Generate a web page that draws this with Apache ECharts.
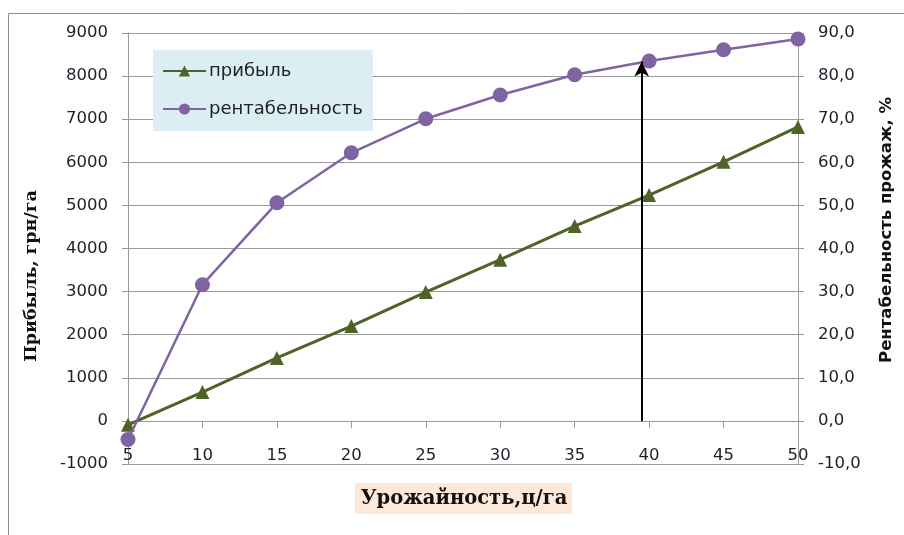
<!DOCTYPE html>
<html>
<head>
<meta charset="utf-8">
<script src="https://cdn.jsdelivr.net/npm/echarts@6/dist/echarts.min.js"></script>
<style>html,body{margin:0;padding:0;background:#fff}#c{width:904px;height:535px}</style>
</head>
<body>
<div id="c"></div>
<script>
// Data
const yields = [5, 10, 15, 20, 25, 30, 35, 40, 45, 50];
const profit = [-90, 670, 1460, 2200, 2990, 3740, 4520, 5240, 6010, 6820];
const profitability = [-4.3, 31.6, 50.6, 62.2, 70.1, 75.6, 80.3, 83.5, 86.1, 88.6];
const arrowX = 39.5;
const arrowFrom = 0;
const arrowTo = 83.4;
const seriesNames = ['прибыль', 'рентабельность'];
const xTitle = 'Урожайность,ц/га';
const yLeftTitle = 'Прибыль, грн/га';
const yRightTitle = 'Рентабельность прожаж, %';

const chart = echarts.init(document.getElementById('c'));
const labelFont = {fontFamily: 'DejaVu Sans', fontSize: 16.5, color: '#1f1f2a'};
const gridColor = '#9a9a9a';

chart.setOption({
  animation: false,
  backgroundColor: '#fff',
  graphic: [
    {type: 'rect', shape: {x: 8.5, y: 13.5, width: 1000, height: 600}, style: {fill: 'none', stroke: '#8c8c8c', lineWidth: 1}, silent: true},
    {type: 'rect', shape: {x: 355, y: 483, width: 217, height: 31}, style: {fill: '#fde9d9'}, silent: true, z: 0},
    {type: 'text', x: 464, y: 499, style: {text: xTitle, font: 'bold 19.5px "DejaVu Serif"', fill: '#111', align: 'center', verticalAlign: 'middle'}, z: 10},
    {type: 'text', x: 31, y: 276, rotation: Math.PI / 2, style: {text: yLeftTitle, font: 'bold 17.5px "DejaVu Serif"', fill: '#111', align: 'center', verticalAlign: 'middle'}, z: 10},
    {type: 'text', x: 887, y: 230, rotation: Math.PI / 2, style: {text: yRightTitle, font: 'bold 16.5px "DejaVu Sans"', fill: '#111', align: 'center', verticalAlign: 'middle'}, z: 10}
  ],
  legend: {
    orient: 'vertical',
    left: 153,
    top: 50,
    backgroundColor: '#dbeef4',
    padding: [12, 10, 13, 9],
    itemGap: 20,
    itemWidth: 43,
    itemHeight: 14,
    textStyle: {fontFamily: 'DejaVu Sans', fontSize: 18, color: '#1f1f2a', padding: [0, 0, 0, -2]},
    data: seriesNames
  },
  grid: {left: 128, right: 106, top: 33, bottom: 71, containLabel: false},
  xAxis: {
    type: 'value',
    min: 5, max: 50, interval: 5,
    axisLine: {onZero: true, lineStyle: {color: gridColor, width: 1}},
    axisTick: {show: true, length: 7, lineStyle: {color: gridColor}},
    axisLabel: Object.assign({margin: -17}, labelFont),
    splitLine: {show: false}
  },
  yAxis: [
    {
      type: 'value', min: -1000, max: 9000, interval: 1000,
      axisLine: {show: true, lineStyle: {color: gridColor}},
      axisTick: {show: true, length: 6, lineStyle: {color: gridColor}},
      axisLabel: Object.assign({margin: 20, formatter: v => String(v)}, labelFont),
      splitLine: {show: true, lineStyle: {color: gridColor, width: 1}}
    },
    {
      type: 'value', min: -10, max: 90, interval: 10, position: 'right',
      axisLine: {show: true, onZero: false, lineStyle: {color: gridColor}},
      axisTick: {show: true, length: 6, lineStyle: {color: gridColor}},
      axisLabel: Object.assign({margin: 20, formatter: v => v.toFixed(1).replace('.', ',')}, labelFont),
      splitLine: {show: false}
    }
  ],
  series: [
    {
      name: seriesNames[0], type: 'line', yAxisIndex: 0,
      data: yields.map((x, i) => [x, profit[i]]),
      symbol: 'triangle', symbolSize: 14,
      lineStyle: {color: '#4f6228', width: 3},
      itemStyle: {color: '#4f6228'},
      z: 3
    },
    {
      name: seriesNames[1], type: 'line', yAxisIndex: 1,
      data: yields.map((x, i) => [x, profitability[i]]),
      symbol: 'circle', symbolSize: 15,
      lineStyle: {color: '#8064a2', width: 2.5},
      itemStyle: {color: '#8064a2'},
      z: 4,
      markLine: {
        silent: true,
        symbol: ['none', 'arrow'],
        symbolSize: [11, 15],
        label: {show: false},
        lineStyle: {color: '#000', width: 2, type: 'solid'},
        data: [[{coord: [arrowX, arrowFrom]}, {coord: [arrowX, arrowTo]}]]
      }
    }
  ]
});
</script>
</body>
</html>
